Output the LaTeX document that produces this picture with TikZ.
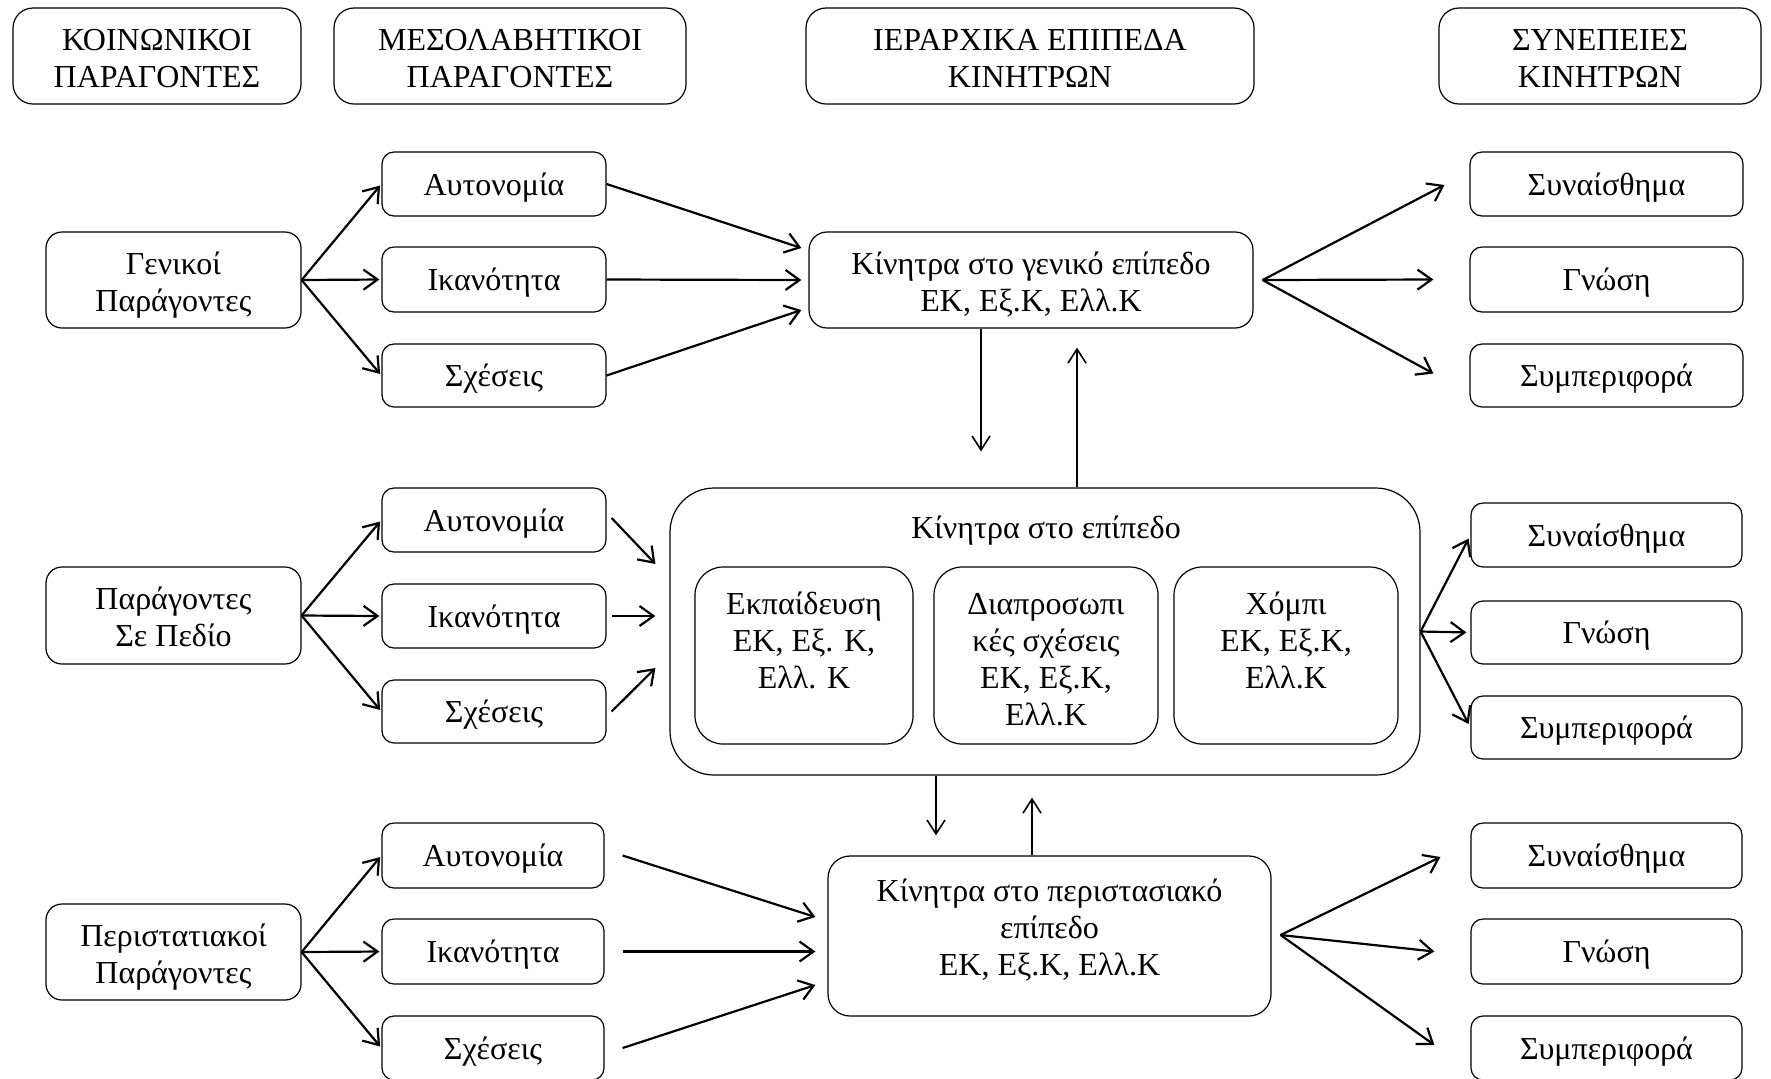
\documentclass[tikz,border=0pt]{standalone}
\usepackage{fontspec}
\setmainfont{Liberation Serif}
\usetikzlibrary{arrows.meta,calc}
\begin{document}
\begin{tikzpicture}[x=0.5pt,y=-0.5pt,
  font=\fontsize{16pt}{18.5pt}\selectfont,
  box/.style={draw, line width=0.6pt, align=center, inner sep=0pt, rounded corners=6pt,
    execute at begin node={\rule{0pt}{14.5pt}},
    execute at end node={\rule[-3.5pt]{0pt}{0pt}}},
  twol/.style={execute at begin node={\rule{0pt}{34.8pt}}},
  fourl/.style={execute at begin node={\rule{0pt}{73.8pt}}},
  sz/.style 2 args={minimum width=#1*0.5pt, minimum height=#2*0.5pt},
  hbox/.style={box, twol, rounded corners=10pt},
  gbox/.style={box, twol, rounded corners=8pt},
  kbox/.style={box, rounded corners=9pt},
  ibox/.style={box, fourl, rounded corners=14pt},
  bigbox/.style={box, rounded corners=22pt},
  arr/.style={line width=1.1pt, -{Straight Barb[length=7pt,width=10pt,line width=1.1pt]}},
  varr/.style={line width=0.8pt, -{Straight Barb[length=7pt,width=9pt,line width=0.8pt]}},
]
\useasboundingbox (0,0) rectangle (1771,1078);

% headers
\node[hbox, sz={288}{96}] (h1) at (157,56) {ΚΟΙΝΩΝΙΚΟΙ\\ΠΑΡΑΓΟΝΤΕΣ};
\node[hbox, sz={352}{96}] (h2) at (510,56) {ΜΕΣΟΛΑΒΗΤΙΚΟΙ\\ΠΑΡΑΓΟΝΤΕΣ};
\node[hbox, sz={448}{96}] (h3) at (1030,56) {ΙΕΡΑΡΧΙΚΑ ΕΠΙΠΕΔΑ\\ΚΙΝΗΤΡΩΝ};
\node[hbox, sz={322}{96}] (h4) at (1600,56) {ΣΥΝΕΠΕΙΕΣ\\ΚΙΝΗΤΡΩΝ};

% row 1
\node[gbox, sz={255}{96}] (g1) at (173.5,280) {Γενικοί\\Παράγοντες};
\node[box, sz={224}{64}] (a1) at (494,184) {Αυτονομία};
\node[box, sz={224}{65}] (i1) at (494,279.5) {Ικανότητα};
\node[box, sz={224}{63}] (s1) at (494,375.5) {Σχέσεις};
\node[kbox, twol, sz={444}{96}] (k1) at (1031,280) {Κίνητρα στο γενικό επίπεδο\\ΕΚ, Εξ.Κ, Ελλ.Κ};
\node[box, sz={273}{64}] (c1a) at (1606.5,184) {Συναίσθημα};
\node[box, sz={273}{65}] (c1b) at (1606.5,279.5) {Γνώση};
\node[box, sz={273}{63}] (c1c) at (1606.5,375.5) {Συμπεριφορά};

% row 2
\node[gbox, sz={255}{97}] (g2) at (173.5,615.5) {Παράγοντες\\Σε Πεδίο};
\node[box, sz={224}{64}] (a2) at (494,520) {Αυτονομία};
\node[box, sz={224}{64}] (i2) at (494,616) {Ικανότητα};
\node[box, sz={224}{63}] (s2) at (494,711.5) {Σχέσεις};
\node[bigbox, sz={750}{287}] (big) at (1045,631.5) {};
\node (bigt) at (1046,531) {Κίνητρα στο επίπεδο};
\node[ibox, sz={218}{177}] (e) at (804,655.5) {Εκπαίδευση\\ΕΚ, Εξ. Κ,\\Ελλ. Κ\\\mbox{}};
\node[ibox, sz={224}{177}] (d) at (1046,655.5) {Διαπροσωπι\\κές σχέσεις\\ΕΚ, Εξ.Κ,\\Ελλ.Κ};
\node[ibox, sz={224}{177}] (x) at (1286,655.5) {Χόμπι\\ΕΚ, Εξ.Κ,\\Ελλ.Κ\\\mbox{}};
\node[box, sz={271}{64}] (c2a) at (1606.5,535) {Συναίσθημα};
\node[box, sz={271}{63}] (c2b) at (1606.5,632.5) {Γνώση};
\node[box, sz={271}{63}] (c2c) at (1606.5,727.5) {Συμπεριφορά};

% row 3
\node[gbox, sz={255}{96}] (g3) at (173.5,952) {Περιστατιακοί\\Παράγοντες};
\node[box, sz={222}{65}] (a3) at (493,855.5) {Αυτονομία};
\node[box, sz={222}{65}] (i3) at (493,951.5) {Ικανότητα};
\node[box, sz={222}{64}] (s3) at (493,1048) {Σχέσεις};
\node[kbox, rounded corners=11pt, sz={443}{160}] (k3) at (1049.5,936) {Κίνητρα στο περιστασιακό\\επίπεδο\\ΕΚ, Εξ.Κ, Ελλ.Κ\rule[-9pt]{0pt}{0pt}};
\node[box, sz={271}{65}] (c3a) at (1606.5,855.5) {Συναίσθημα};
\node[box, sz={271}{65}] (c3b) at (1606.5,951.5) {Γνώση};
\node[box, sz={271}{64}] (c3c) at (1606.5,1048) {Συμπεριφορά};

% row 1 arrows
\foreach \t in {a1,i1,s1} \draw[arr, shorten >=1pt] (g1.east) -- (\t.west);
\draw[arr] (a1.east) -- ($(k1.west)+(-7,-32)$);
\draw[arr] (i1.east) -- ($(k1.west)+(-7,0)$);
\draw[arr] (s1.east) -- ($(k1.west)+(-7,30)$);
\draw[arr] ($(k1.east)+(9,0)$) -- ($(c1a.west)+(-25,1)$);
\draw[arr] ($(k1.east)+(9,0)$) -- ($(c1b.west)+(-36,0)$);
\draw[arr] ($(k1.east)+(9,0)$) -- ($(c1c.west)+(-36,-2)$);
\draw[varr] ($(k1.south)+(-50,0)$) -- ($(big.north)+(-64,-36)$);
\draw[varr] ($(big.north)+(32,0)$) -- ($(k1.south)+(46,19)$);

% row 2 arrows
\foreach \t in {a2,i2,s2} \draw[arr, shorten >=1pt] (g2.east) -- (\t.west);
\draw[arr] ($(a2.east)+(5,-2)$) -- ($(big.west)+(-14,-67.5)$);
\draw[arr] ($(i2.east)+(5,0)$) -- ($(i2.east -| big.west)+(-14,0)$);
\draw[arr] ($(s2.east)+(5,0)$) -- ($(big.west)+(-14,36.5)$);
\foreach \t in {c2a,c2b,c2c} \draw[arr, shorten >=2pt] (big.east) -- (\t.west);
\draw[varr] ($(big.south)+(-109,0)$) -- ($(k3.north)+(-113.5,-20)$);
\draw[varr] ($(k3.north)+(-17.5,0)$) -- ($(big.south)+(-13,22)$);

% row 3 arrows
\foreach \t in {a3,i3,s3} \draw[arr, shorten >=1pt] (g3.east) -- (\t.west);
\draw[arr] ($(a3.east)+(18,0)$) -- ($(k3.west)+(-12,-19)$);
\draw[arr] ($(i3.east)+(18,0)$) -- ($(i3.east -| k3.west)+(-12,0)$);
\draw[arr] ($(s3.east)+(18,0)$) -- ($(k3.west)+(-12,49)$);
\draw[arr] ($(k3.east)+(9,-1)$) -- ($(c3a.west)+(-30,1.5)$);
\draw[arr] ($(k3.east)+(9,-1)$) -- ($(c3b.west)+(-36,0)$);
\draw[arr] ($(k3.east)+(9,-1)$) -- ($(c3c.west)+(-36,-3)$);
\end{tikzpicture}
\end{document}
